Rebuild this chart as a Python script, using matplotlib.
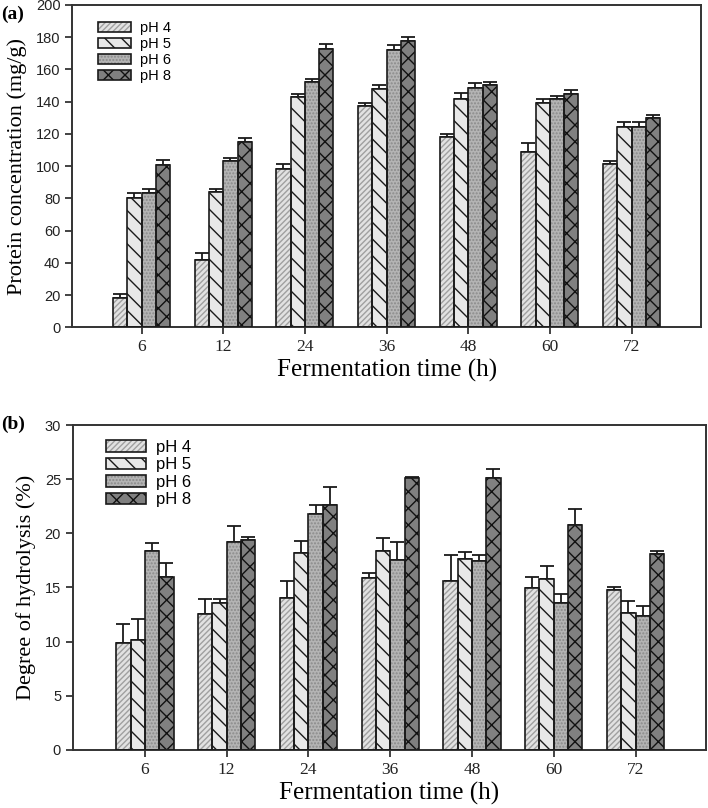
import numpy as np
import matplotlib
matplotlib.use('Agg')
import matplotlib.pyplot as plt
from matplotlib.patches import Patch

# данные
times = ['6', '12', '24', '36', '48', '60', '72']
series = ['pH 4', 'pH 5', 'pH 6', 'pH 8']

protein = {
    'pH 4': [18, 42, 98, 137, 118, 109, 101],
    'pH 5': [80, 84, 143, 147.5, 141.5, 139, 124],
    'pH 6': [83, 103, 152, 172, 148.5, 141.5, 124.5],
    'pH 8': [100.5, 115, 172.5, 177.5, 150, 144.5, 129.5],
}
protein_err = {
    'pH 4': [2.5, 4, 3, 2, 2, 5, 2],
    'pH 5': [3, 1.5, 1.5, 3, 4, 2.5, 3.5],
    'pH 6': [3, 2, 2, 3, 3, 2, 3],
    'pH 8': [3, 2.5, 3.5, 2.5, 2, 2.5, 2],
}

dh = {
    'pH 4': [9.85, 12.5, 14.0, 15.85, 15.55, 14.93, 14.75],
    'pH 5': [10.1, 13.6, 18.2, 18.4, 17.6, 15.8, 12.6],
    'pH 6': [18.4, 19.2, 21.75, 17.5, 17.4, 13.57, 12.35],
    'pH 8': [16.0, 19.35, 22.6, 25.15, 25.15, 20.75, 18.1],
}
dh_err = {
    'pH 4': [1.75, 1.4, 1.55, 0.45, 2.4, 1.07, 0.25],
    'pH 5': [2.0, 0.35, 1.05, 1.15, 0.65, 1.15, 1.17],
    'pH 6': [0.7, 1.45, 0.9, 1.65, 0.55, 0.8, 0.95],
    'pH 8': [1.3, 0.35, 1.65, 0.05, 0.75, 1.45, 0.28],
}

# заливка, штриховка, цвет штриховки
styles = {
    'pH 4': ('#e2e2e2', '//////', '#a0a0a0'),
    'pH 5': ('#e8e8e8', '\\\\', '#1a1a1a'),
    'pH 6': ('#b4b4b4', '.....', '#8a8a8a'),
    'pH 8': ('#808080', 'xx', '#111111'),
}

plt.rcParams['hatch.linewidth'] = 1.0

serif = 'Liberation Serif'
sans = 'Liberation Sans'

fig = plt.figure(figsize=(7.08, 8.08), dpi=100)
ax1 = fig.add_axes([0.102, 0.595, 0.888, 0.399])
ax2 = fig.add_axes([0.103, 0.072, 0.894, 0.402])


def draw(ax, data, err, ymax, ystep, ylabel, xlim, leg_size, leg_len, leg_pos):
    x = np.arange(len(times))
    w = 0.175
    handles = []
    for i, s in enumerate(series):
        fc, hatch, hc = styles[s]
        pos = x + (i - 1.5) * w
        # штриховка своим цветом, потом чёрный контур
        ax.bar(pos, data[s], w, facecolor=fc, hatch=hatch, edgecolor=hc, linewidth=0, zorder=2)
        ax.bar(pos, data[s], w, fill=False, edgecolor='#1a1a1a', linewidth=1.2, zorder=3)
        ax.errorbar(pos, data[s], yerr=[np.zeros(len(times)), err[s]], fmt='none',
                    ecolor='#1a1a1a', elinewidth=1.3, capsize=5, capthick=1.3, zorder=1)
        handles.append((Patch(facecolor=fc, hatch=hatch, edgecolor=hc, linewidth=0),
                        Patch(fill=False, edgecolor='#1a1a1a', linewidth=1.2)))
    ax.set_xlim(*xlim)
    ax.set_ylim(0, ymax)
    ax.set_yticks(np.arange(0, ymax + 1, ystep))
    ax.set_xticks(x)
    ax.set_xticklabels(times, fontfamily=serif, fontsize=12.5)
    for t in ax.get_yticklabels():
        t.set_fontfamily(sans)
        t.set_fontsize(10.5)
    ax.tick_params(direction='out', length=5, width=1.2, colors='#222222')
    for sp in ax.spines.values():
        sp.set_linewidth(1.4)
        sp.set_color('#333333')
    ax.set_xlabel('Fermentation time (h)', fontfamily=serif, fontsize=18, labelpad=3)
    ax.set_ylabel(ylabel, fontfamily=serif, fontsize=16, labelpad=6)
    ax.legend(handles, series, loc='upper left', bbox_to_anchor=leg_pos, frameon=False,
              prop={'family': sans, 'size': leg_size}, handlelength=leg_len, handleheight=0.7,
              labelspacing=0.15, handletextpad=0.6, borderpad=0.2)


draw(ax1, protein, protein_err, 200, 20, 'Protein concentration (mg/g)', (-0.85, 6.85),
     10.5, 2.3, (0.024, 0.982))
draw(ax2, dh, dh_err, 30, 5, 'Degree of hydrolysis (%)', (-0.88, 6.86),
     12, 2.4, (0.034, 0.99))

fig.text(0.002, 0.993, '(a)', fontfamily=serif, fontsize=14, fontweight='bold', va='top')
fig.text(0.002, 0.486, '(b)', fontfamily=serif, fontsize=14, fontweight='bold', va='top')

fig.savefig('out.png', dpi=100)
